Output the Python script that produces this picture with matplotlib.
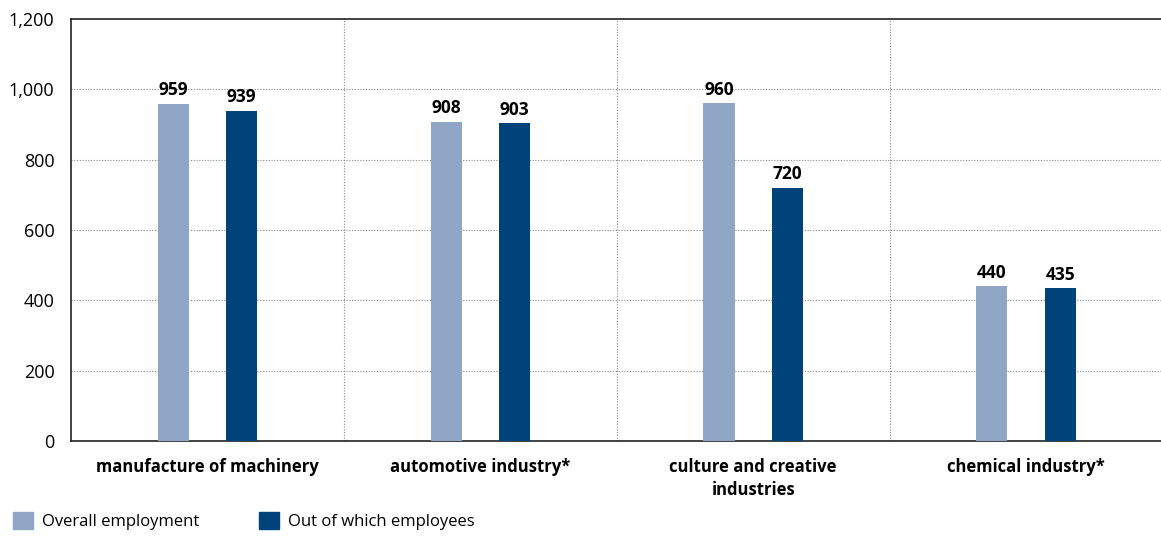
import matplotlib.pyplot as plt
import numpy as np
from matplotlib.patches import Patch

categories = ['manufacture of machinery', 'automotive industry*',
              'culture and creative\nindustries', 'chemical industry*']
overall = [959, 908, 960, 440]
employees = [939, 903, 720, 435]
series_names = ['Overall employment', 'Out of which employees']
y_ticks = [0, 200, 400, 600, 800, 1000, 1200]

light = '#8fa6c6'
dark = '#00437a'

plt.rcParams['font.family'] = ['Open Sans', 'DejaVu Sans']

fig = plt.figure(figsize=(11.61, 5.39), dpi=100)
ax = fig.add_axes([0.0612, 0.182, 0.94, 0.783])

x = np.arange(len(categories))
w = 0.114
off = 0.125
b1 = ax.bar(x - off, overall, w, color=light, zorder=3)
b2 = ax.bar(x + off, employees, w, color=dark, zorder=3)

for bars in (b1, b2):
    for r in bars:
        ax.text(r.get_x() + r.get_width() / 2, r.get_height() + 12,
                f'{int(r.get_height())}', ha='center', va='bottom',
                fontsize=12.5, fontweight='bold', color='black')

ax.set_xlim(-0.5, len(categories) - 0.5)
ax.set_ylim(0, 1200)
ax.set_yticks(y_ticks)
ax.set_yticklabels([f'{v:,}' for v in y_ticks], fontsize=13)
ax.set_xticks(x)
ax.set_xticklabels(categories, fontsize=12, fontweight='bold', linespacing=1.4)
ax.tick_params(axis='y', length=0, pad=12)
ax.tick_params(axis='x', length=0, pad=12)

for v in y_ticks[1:-1]:
    ax.axhline(v, color='#888888', linestyle=(0, (1, 1.5)), linewidth=0.8, zorder=1)
for b in np.arange(0.5, len(categories) - 0.5, 1):
    ax.axvline(b, color='#888888', linestyle=(0, (1, 1.5)), linewidth=0.8, zorder=1)

ax.spines['right'].set_visible(False)
for s in ('left', 'bottom', 'top'):
    ax.spines[s].set_color('#222222')
    ax.spines[s].set_linewidth(1.2)

handles = [Patch(color=light), Patch(color=dark)]
fig.legend(handles, series_names, loc='lower left', bbox_to_anchor=(-0.002, -0.012),
           ncol=2, frameon=False, fontsize=12, handlelength=1.2, handleheight=1.2,
           handletextpad=0.55, columnspacing=3.6)

fig.savefig('out.png', dpi=100)
